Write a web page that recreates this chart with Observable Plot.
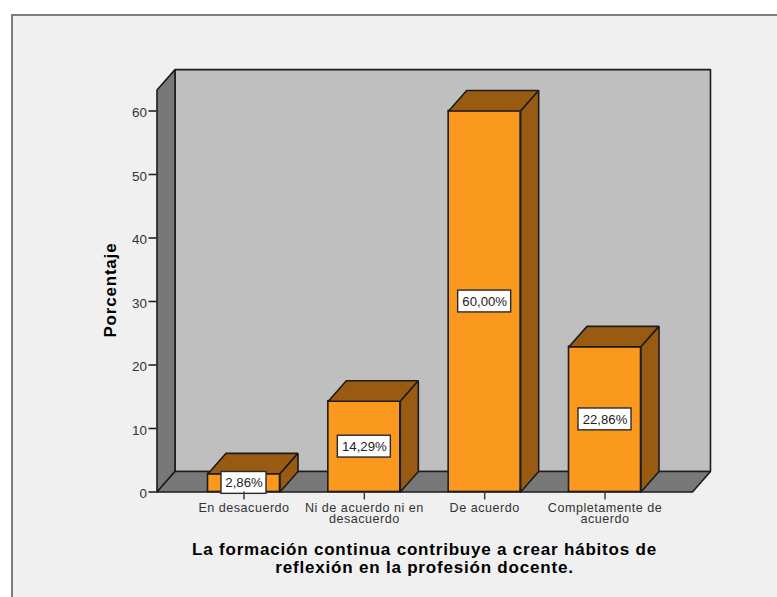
<!DOCTYPE html>
<html>
<head>
<meta charset="utf-8">
<script src="https://cdn.jsdelivr.net/npm/d3@7"></script>
<script src="https://cdn.jsdelivr.net/npm/@observablehq/plot@0.6"></script>
<style>
  html, body { margin: 0; padding: 0; background: #fff; overflow: hidden; }
  #panel { position: absolute; left: 11px; top: 14px; width: 766px; height: 583px; box-sizing: border-box;
           background: #f0f0f0; border-left: 2px solid #7d7d7d; border-top: 2px solid #7d7d7d; }
  #chart { position: absolute; left: 0; top: 0; }
  svg { display: block; }
  g[font-weight="bold"] { letter-spacing: 0.8px; }
  g[aria-label="x-axis tick label"] { letter-spacing: 0.5px; }
</style>
</head>
<body>
<div id="panel"></div>
<div id="chart"></div>
<script>
const categories = ["En desacuerdo", "Ni de acuerdo ni en\ndesacuerdo", "De acuerdo", "Completamente de\nacuerdo"];
const percentages = [2.86, 14.29, 60.00, 22.86];
const valueLabels = ["2,86%", "14,29%", "60,00%", "22,86%"];
const yTicks = [0, 10, 20, 30, 40, 50, 60];
const xLabel = "La formación continua contribuye a crear hábitos de\nreflexión en la profesión docente.";
const yLabel = "Porcentaje";

// Extents of the pseudo-3D box, in data units
const depthX = 0.1496, depthY = 3.22;
const halfBar = 0.2992;
const xMin = -0.723, xMax = 3.727, yTop = 63.3;

const poly = (id, pts) => pts.concat([pts[0]]).map(([x, y]) => ({id, x, y}));
const backWall = poly("back", [[xMin + depthX, depthY], [xMax + depthX, depthY], [xMax + depthX, yTop + depthY], [xMin + depthX, yTop + depthY]]);
const leftWall = poly("left", [[xMin, 0], [xMin + depthX, depthY], [xMin + depthX, yTop + depthY], [xMin, yTop]]);
const floor = poly("floor", [[xMin, 0], [xMax, 0], [xMax + depthX, depthY], [xMin + depthX, depthY]]);
const tops = percentages.flatMap((v, i) => poly(i, [[i - halfBar, v], [i + halfBar, v], [i + halfBar + depthX, v + depthY], [i - halfBar + depthX, v + depthY]]));
const sides = percentages.flatMap((v, i) => poly(i, [[i + halfBar, 0], [i + halfBar + depthX, depthY], [i + halfBar + depthX, v + depthY], [i + halfBar, v]]));
const bars = percentages.map((v, i) => ({i, v, label: valueLabels[i]}));

const ink = "#1c1c1c", sw = 1.6;
const face = (data, fill) => Plot.line(data, {x: "x", y: "y", z: "id", fill, stroke: ink, strokeWidth: sw, curve: "linear", strokeLinejoin: "miter"});
const boxHalf = d => (8 * d.label.length + 5) / 2 / 120.33;
const boxHalfY = 1.72;

const plot = Plot.plot({
  width: 777, height: 597,
  marginLeft: 156.5, marginRight: 0, marginTop: 0, marginBottom: 105.5,
  style: {background: "transparent", fontFamily: "'Liberation Sans', Arial, sans-serif", overflow: "visible"},
  x: {type: "linear", domain: [0, 3], range: [243.5, 604.5]},
  y: {type: "linear", domain: [0, 60], range: [491.5, 110.5]},
  marks: [
    face(backWall, "#bfbfbf"),
    face(leftWall, "#787878"),
    face(floor, "#787878"),
    Plot.rect(bars, {x1: d => d.i - halfBar, x2: d => d.i + halfBar, y1: 0, y2: "v", fill: "#fb981e", stroke: ink, strokeWidth: sw}),
    face(tops, "#995b12"),
    face(sides, "#995b12"),
    Plot.rect(bars, {x1: d => d.i - boxHalf(d), x2: d => d.i + boxHalf(d), y1: d => d.v / 2 - boxHalfY, y2: d => d.v / 2 + boxHalfY, fill: "#fff", stroke: "#2a2a2a", strokeWidth: 1.4}),
    Plot.text(bars, {x: "i", y: d => d.v / 2, text: "label", fontSize: 13.2, fill: "#222"}),
    Plot.axisY(yTicks, {anchor: "left", tickSize: 8, text: null, stroke: "#222", strokeWidth: 1.6, label: null}),
    Plot.axisY(yTicks, {anchor: "left", tickSize: 0, tickPadding: 10, fontSize: 13.4, dy: 2, fill: "#333", label: null}),
    Plot.axisX([0, 1, 2, 3], {anchor: "bottom", tickSize: 8, tickPadding: 3, fontSize: 12.6, lineHeight: 0.95, stroke: "#333", strokeWidth: 1.4, fill: "#333", label: null, tickFormat: i => categories[i]}),
    Plot.text([xLabel], {x: 1.5, frameAnchor: "bottom", dy: 81, text: d => d, fontSize: 17, fontWeight: "bold", fill: "#000", lineHeight: 1.06}),
    Plot.text([yLabel], {y: 31.8, frameAnchor: "left", dx: -46, rotate: -90, textAnchor: "middle", text: d => d, fontSize: 17, fontWeight: "bold", fill: "#000"})
  ]
});
document.getElementById("chart").append(plot);
</script>
</body>
</html>
